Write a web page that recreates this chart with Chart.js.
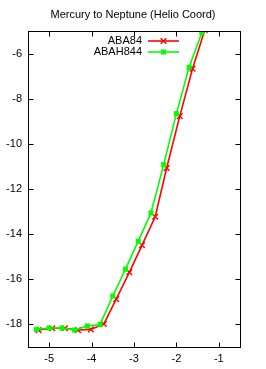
<!DOCTYPE html>
<html>
<head>
<meta charset="utf-8">
<script src="https://cdn.jsdelivr.net/npm/chart.js@4/dist/chart.umd.min.js"></script>
<style>
	html, body { margin: 0; padding: 0; background: #fff; }
	#box { width: 266px; height: 369px; }
</style>
</head>
<body>
<div id="box"><canvas id="graph" width="266" height="369"></canvas></div>
<script>
// series
const redLabel = "ABA84";
const redX = [-5.25, -4.93, -4.63, -4.32, -4.02, -3.71, -3.42, -3.11, -2.81, -2.50, -2.23, -1.92, -1.62, -1.33];
const redY = [-18.25, -18.17, -18.17, -18.25, -18.22, -17.98, -16.88, -15.69, -14.49, -13.23, -11.07, -8.77, -6.67, -4.95];

const greenLabel = "ABAH844";
const greenX = [-5.3, -5.0, -4.7, -4.4, -4.1, -3.8, -3.5, -3.2, -2.9, -2.6, -2.3, -2.0, -1.7, -1.4];
const greenY = [-18.22, -18.16, -18.16, -18.25, -18.07, -18.0, -16.74, -15.55, -14.31, -13.06, -10.92, -8.66, -6.61, -5.07];

const xTicks = [-5, -4, -3, -2, -1];
const yTicks = [-18, -16, -14, -12, -10, -8, -6];

const FONT = "'Liberation Sans', Arial, sans-serif";

function toPoints(xs, ys) {
	return xs.map((x, i) => ({ x: x, y: ys[i] }));
}

// gnuplot style frame: border plus inward ticks on all four sides
const framePlugin = {
	id: "frame",
	afterDatasetsDraw(chart) {
		const { ctx, chartArea: a, scales } = chart;
		const L = Math.round(a.left) + 0.5, R = Math.round(a.right) + 0.5;
		const T = Math.round(a.top) + 0.5, B = Math.round(a.bottom) + 0.5;
		ctx.save();
		ctx.strokeStyle = "#000";
		ctx.lineWidth = 1;
		ctx.strokeRect(L, T, R - L, B - T);
		ctx.beginPath();
		scales.x.ticks.forEach((t) => {
			const px = Math.round(scales.x.getPixelForValue(t.value)) + 0.5;
			ctx.moveTo(px, B); ctx.lineTo(px, B - 5);
			ctx.moveTo(px, T); ctx.lineTo(px, T + 5);
		});
		scales.y.ticks.forEach((t) => {
			const py = Math.round(scales.y.getPixelForValue(t.value)) + 0.5;
			ctx.moveTo(L, py); ctx.lineTo(L + 5, py);
			ctx.moveTo(R, py); ctx.lineTo(R - 5, py);
		});
		ctx.stroke();
		ctx.restore();
	},
	afterDraw(chart) {
		// key in the top of the plot: text right aligned, sample on its right
		const ctx = chart.ctx;
		ctx.save();
		ctx.font = "11px " + FONT;
		ctx.textAlign = "right";
		ctx.textBaseline = "middle";
		chart.data.datasets.forEach((ds, i) => {
			const y = 41 + i * 11;
			ctx.fillStyle = "#000";
			ctx.fillText(ds.label, 142, y);
			ctx.strokeStyle = ds.borderColor;
			ctx.fillStyle = ds.borderColor;
			ctx.lineWidth = ds.borderWidth;
			ctx.beginPath();
			ctx.moveTo(148, y);
			ctx.lineTo(179, y);
			ctx.stroke();
			ctx.lineWidth = ds.pointBorderWidth || 1;
			Chart.helpers.drawPoint(ctx, {
				pointStyle: ds.pointStyle,
				radius: ds.pointRadius,
				borderWidth: ds.pointBorderWidth,
			}, 163.5, y);
		});
		ctx.restore();
	},
};

const ctx = document.getElementById("graph").getContext("2d");
const chart = new Chart(ctx, {
	type: "scatter",
	data: {
		datasets: [
			{
				label: redLabel,
				data: toPoints(redX, redY),
				showLine: true,
				borderColor: "#ff0000",
				backgroundColor: "#ff0000",
				borderWidth: 1.6,
				pointStyle: "crossRot",
				pointRadius: 4,
				pointBorderWidth: 1.4,
				pointBorderColor: "#ff0000",
				order: 1,
			},
			{
				label: greenLabel,
				data: toPoints(greenX, greenY),
				showLine: true,
				borderColor: "#00ff00",
				backgroundColor: "#00ff00",
				borderWidth: 1.6,
				pointStyle: "rect",
				pointRadius: 3.6,
				pointBorderWidth: 0,
				pointBackgroundColor: "#00ff00",
				pointBorderColor: "#00ff00",
				order: 0,
			},
		],
	},
	options: {
		responsive: false,
		animation: false,
		devicePixelRatio: 1,
		layout: { padding: 0 },
		plugins: {
			legend: { display: false },
			tooltip: { enabled: false },
			title: {
				display: true,
				text: "Mercury to Neptune (Helio Coord)",
				color: "#000",
				font: { family: FONT, size: 11, weight: "normal", lineHeight: 1.2 },
				padding: { top: 8, bottom: 9.8 },
			},
		},
		scales: {
			x: {
				type: "linear",
				min: -5.5,
				max: -0.5,
				grid: { display: false, drawTicks: false },
				border: { display: false },
				ticks: { color: "#000", padding: 5, font: { family: FONT, size: 11 }, maxRotation: 0 },
				afterBuildTicks: (s) => { s.ticks = xTicks.map((v) => ({ value: v })); },
				afterFit: (s) => { s.height = 22; },
			},
			y: {
				type: "linear",
				min: -19,
				max: -5,
				grid: { display: false, drawTicks: false },
				border: { display: false },
				ticks: { color: "#000", padding: 6, font: { family: FONT, size: 11 } },
				afterBuildTicks: (s) => { s.ticks = yTicks.map((v) => ({ value: v })); },
				afterFit: (s) => { s.width = 28; },
			},
			// empty right margin so the title centres on the whole canvas
			yRight: {
				type: "linear",
				position: "right",
				min: -19,
				max: -5,
				grid: { display: false, drawTicks: false },
				border: { display: false },
				ticks: { display: false },
				afterFit: (s) => { s.width = 26; },
			},
		},
	},
	plugins: [framePlugin],
});
</script>
</body>
</html>
